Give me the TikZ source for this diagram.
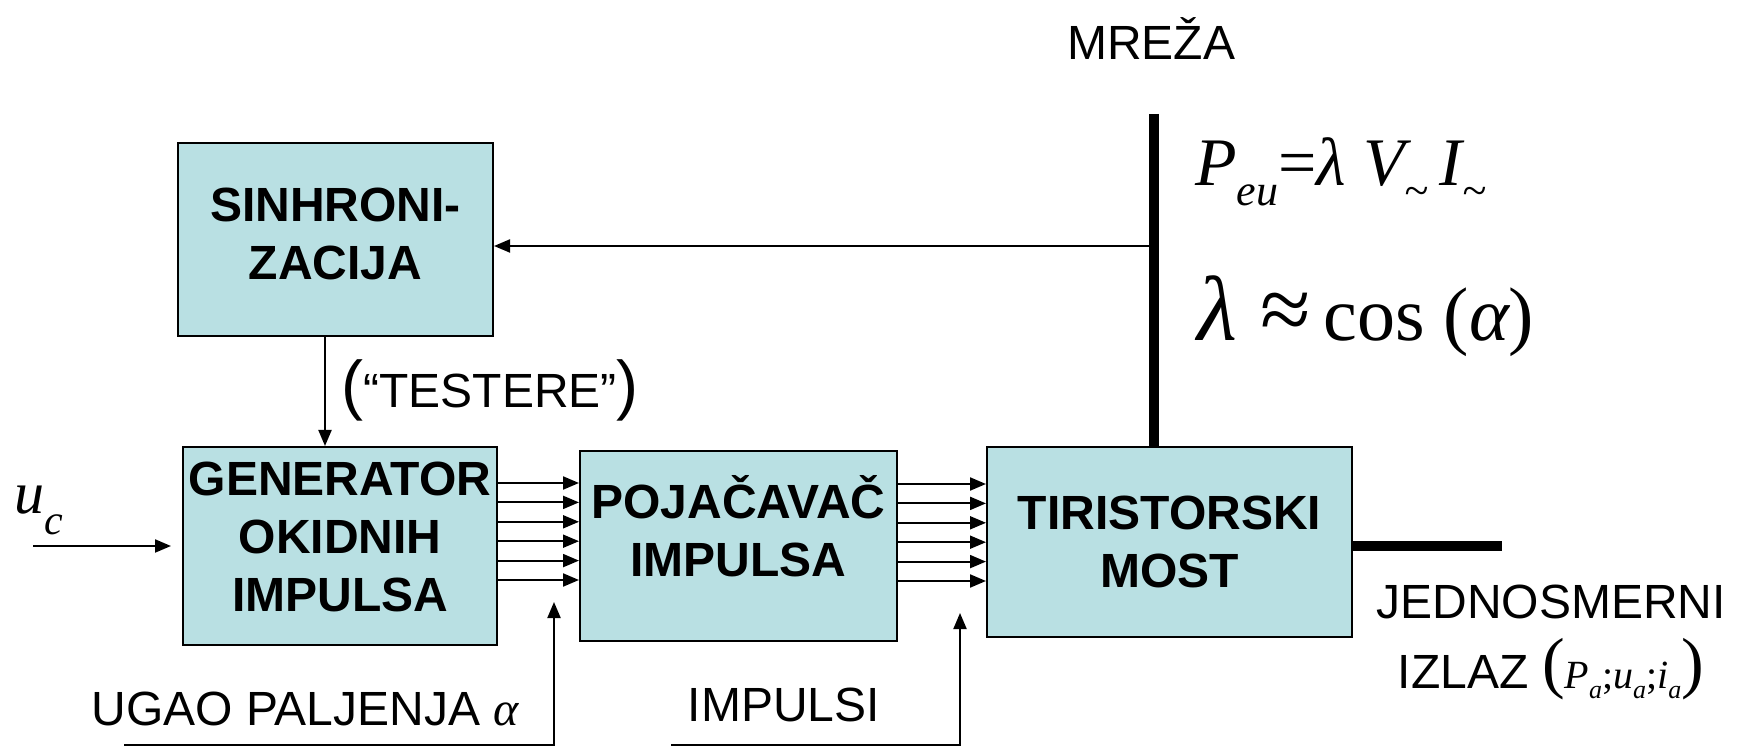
\documentclass[tikz,border=0pt]{standalone}
\usepackage{fontspec}
\setmainfont{Liberation Sans}
\newfontfamily\tms{Liberation Serif}
\usetikzlibrary{arrows.meta,calc}
\definecolor{boxfill}{RGB}{185,224,227}
\newcommand{\mysub}[2]{\raisebox{-#1}{\fontsize{22}{22}\selectfont #2}}
\begin{document}
\begin{tikzpicture}[x=0.5pt,y=-0.5pt,
  blk/.style={draw=black,line width=1pt,fill=boxfill,inner sep=0pt},
  blktxt/.style={font=\fontsize{24}{29}\selectfont\bfseries,align=center,inner sep=0pt},
  lbl/.style={font=\fontsize{24}{29}\selectfont,inner sep=0pt},
  arr/.style={line width=1pt,-{Triangle[length=8pt,width=6.5pt]}},
  bar/.style={line width=5pt}]
\useasboundingbox (0,0) rectangle (1738,747);

% blocks
\node[blk,minimum width=157.5pt,minimum height=96.5pt] (sin) at (335.5,239.5) {};
\node[blk,minimum width=157pt,minimum height=99pt] (gen) at (340,546) {};
\node[blk,minimum width=158.5pt,minimum height=95pt] (poj) at (738.5,546) {};
\node[blk,minimum width=182.5pt,minimum height=95pt] (tir) at (1169.5,542) {};

\node[blktxt] (sint) at (335.5,233.5) {SINHRONI-\\ZACIJA};
\node[blktxt] (gent) at (340,537) {GENERATOR\\OKIDNIH\\IMPULSA};
\node[blktxt] (pojt) at (738.5,526) {POJAČAVAČ\\IMPULSA};
\node[blktxt] (tirt) at (1169.5,541.5) {TIRISTORSKI\\MOST};

% labels
\node[lbl] (mreza) at (1151,39) {MREŽA};
\node[lbl] (test) at (490,390) {{\fontsize{33}{33}\selectfont(}“TESTERE”{\fontsize{33}{33}\selectfont)}};
\node[lbl] (ugao) at (305,709) {UGAO PALJENJA {\tms\itshape α}};
\node[lbl] (imp) at (784,705) {IMPULSI};
\node[lbl] (jed) at (1551,602) {JEDNOSMERNI};
\node[lbl] (izl) at (1551,669) {IZLAZ {\tms\fontsize{34}{34}\selectfont\raisebox{0.05em}{(}\fontsize{20}{20}\selectfont\itshape P\raisebox{-0.25em}{\fontsize{13}{13}\selectfont a}\upshape;\itshape u\raisebox{-0.25em}{\fontsize{13}{13}\selectfont a}\upshape;\itshape i\raisebox{-0.25em}{\fontsize{13}{13}\selectfont a}\upshape\fontsize{34}{34}\selectfont\raisebox{0.05em}{)}}};
\node[inner sep=0pt] (uc) at (39,510) {\tms\itshape\fontsize{30}{30}\selectfont u\raisebox{-0.35em}{\fontsize{21}{21}\selectfont c}};
\node[inner sep=0pt,anchor=west] (peu) at (1195,172) {\tms\fontsize{34}{34}\selectfont\itshape P\mysub{0.3em}{eu}\upshape=\itshape λ V\mysub{0.3em}{\textasciitilde}\,I\mysub{0.3em}{\textasciitilde}};
\node[inner sep=0pt,anchor=west] (lam) at (1197,316) {\tms\fontsize{38}{38}\selectfont{\fontsize{46}{46}\selectfont\itshape λ\upshape\ ≈}\,cos (\itshape α\upshape)};

% coordinates
\coordinate (mtop) at (1154,114);
\coordinate (j1) at (1154,246);
\coordinate (s1x) at (325,0);
\coordinate (ucin) at (33,546);
\coordinate (ang0) at (124,745);
\coordinate (angtip) at (554,602);
\coordinate (imp0) at (671,745);
\coordinate (imptip) at (960,613);
\coordinate (outend) at (1502,546);

% connectors
\draw[bar] (mtop) -- (mtop |- tir.north);
\draw[arr] (j1) -- (j1 -| sin.east);
\draw[arr] (sin.south -| s1x) -- (gen.north -| s1x);
\draw[arr,shorten >=5.5pt] (ucin) -- (ucin -| gen.west);
\foreach \yy in {483,502.4,521.8,541.2,560.6,580}
  \draw[arr] (gen.east |- 0,\yy) -- (poj.west |- 0,\yy);
\foreach \yy in {484,503.4,522.8,542.2,561.6,581}
  \draw[arr] (poj.east |- 0,\yy) -- (tir.west |- 0,\yy);
\draw[arr] (ang0) -- (ang0 -| angtip) -- (angtip);
\draw[arr] (imp0) -- (imp0 -| imptip) -- (imptip);
\draw[bar] (tir.east |- outend) -- (outend);
\end{tikzpicture}
\end{document}
